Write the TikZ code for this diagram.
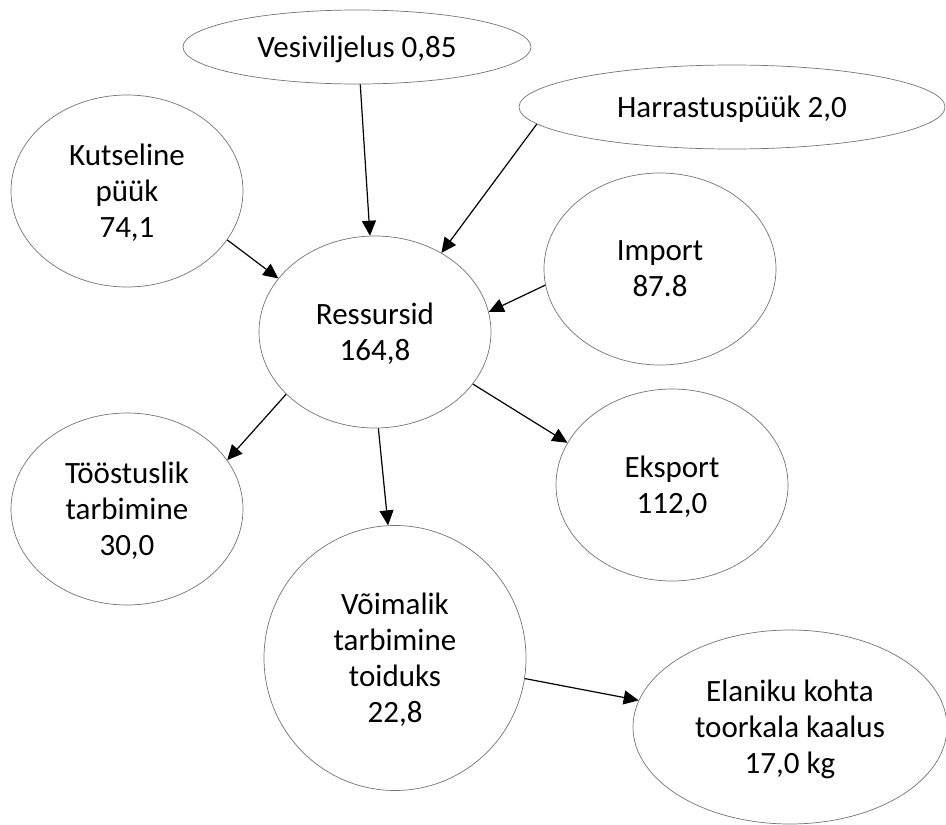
\documentclass[tikz,border=0pt]{standalone}
\usepackage{fontspec}
\setmainfont{Carlito}
\usetikzlibrary{shapes.geometric,arrows.meta}
\begin{document}
\begin{tikzpicture}[x=1pt,y=1pt,
  bub/.style={ellipse,draw=black!55,line width=0.7pt,inner sep=0pt,align=center,
    font=\fontsize{31}{36}\selectfont,text=black,text depth=0pt},
  arr/.style={line width=1.2pt,-{Triangle[length=15pt,width=14pt]}}]
\useasboundingbox (0,0) rectangle (946,-825);
\node[bub,minimum width=348pt,minimum height=74pt] (ves) at (357,-47) {Vesiviljelus 0,85};
\node[bub,minimum width=426pt,minimum height=84pt] (harr) at (732,-107) {Harrastuspüük 2,0};
\node[bub,minimum width=232pt,minimum height=192pt] (kut) at (127,-191) {Kutseline\\püük\\74,1};
\node[bub,minimum width=232pt,minimum height=192pt] (res) at (375,-332) {Ressursid\\164,8};
\node[bub,minimum width=232pt,minimum height=192pt] (imp) at (660,-269) {Import\\87.8};
\node[bub,minimum width=232pt,minimum height=192pt] (too) at (127,-509) {Tööstuslik\\tarbimine\\30,0};
\node[bub,minimum width=232pt,minimum height=192pt] (eks) at (672,-485) {Eksport\\112,0};
\node[bub,minimum width=262pt,minimum height=265pt] (voi) at (395,-658) {Võimalik\\tarbimine\\toiduks\\22,8};
\node[bub,minimum width=314pt,minimum height=194pt] (ela) at (790,-727) {Elaniku kohta\\toorkala kaalus\\17,0 kg};
\draw[arr] (ves.-85.6) -- (res.93.6);
\draw[arr] (harr.185.2) -- (res.50.8);
\draw[arr] (kut.-26.8) -- (res.151.8);
\draw[arr] (imp.188.9) -- (res.10.9);
\draw[arr] (res.215.8) -- (too.26.6);
\draw[arr] (res.-88.8) -- (voi.93.9);
\draw[arr] (res.-28.6) -- (eks.158.2);
\draw[arr] (voi.-9.9) -- (ela.170.8);
\end{tikzpicture}
\end{document}
